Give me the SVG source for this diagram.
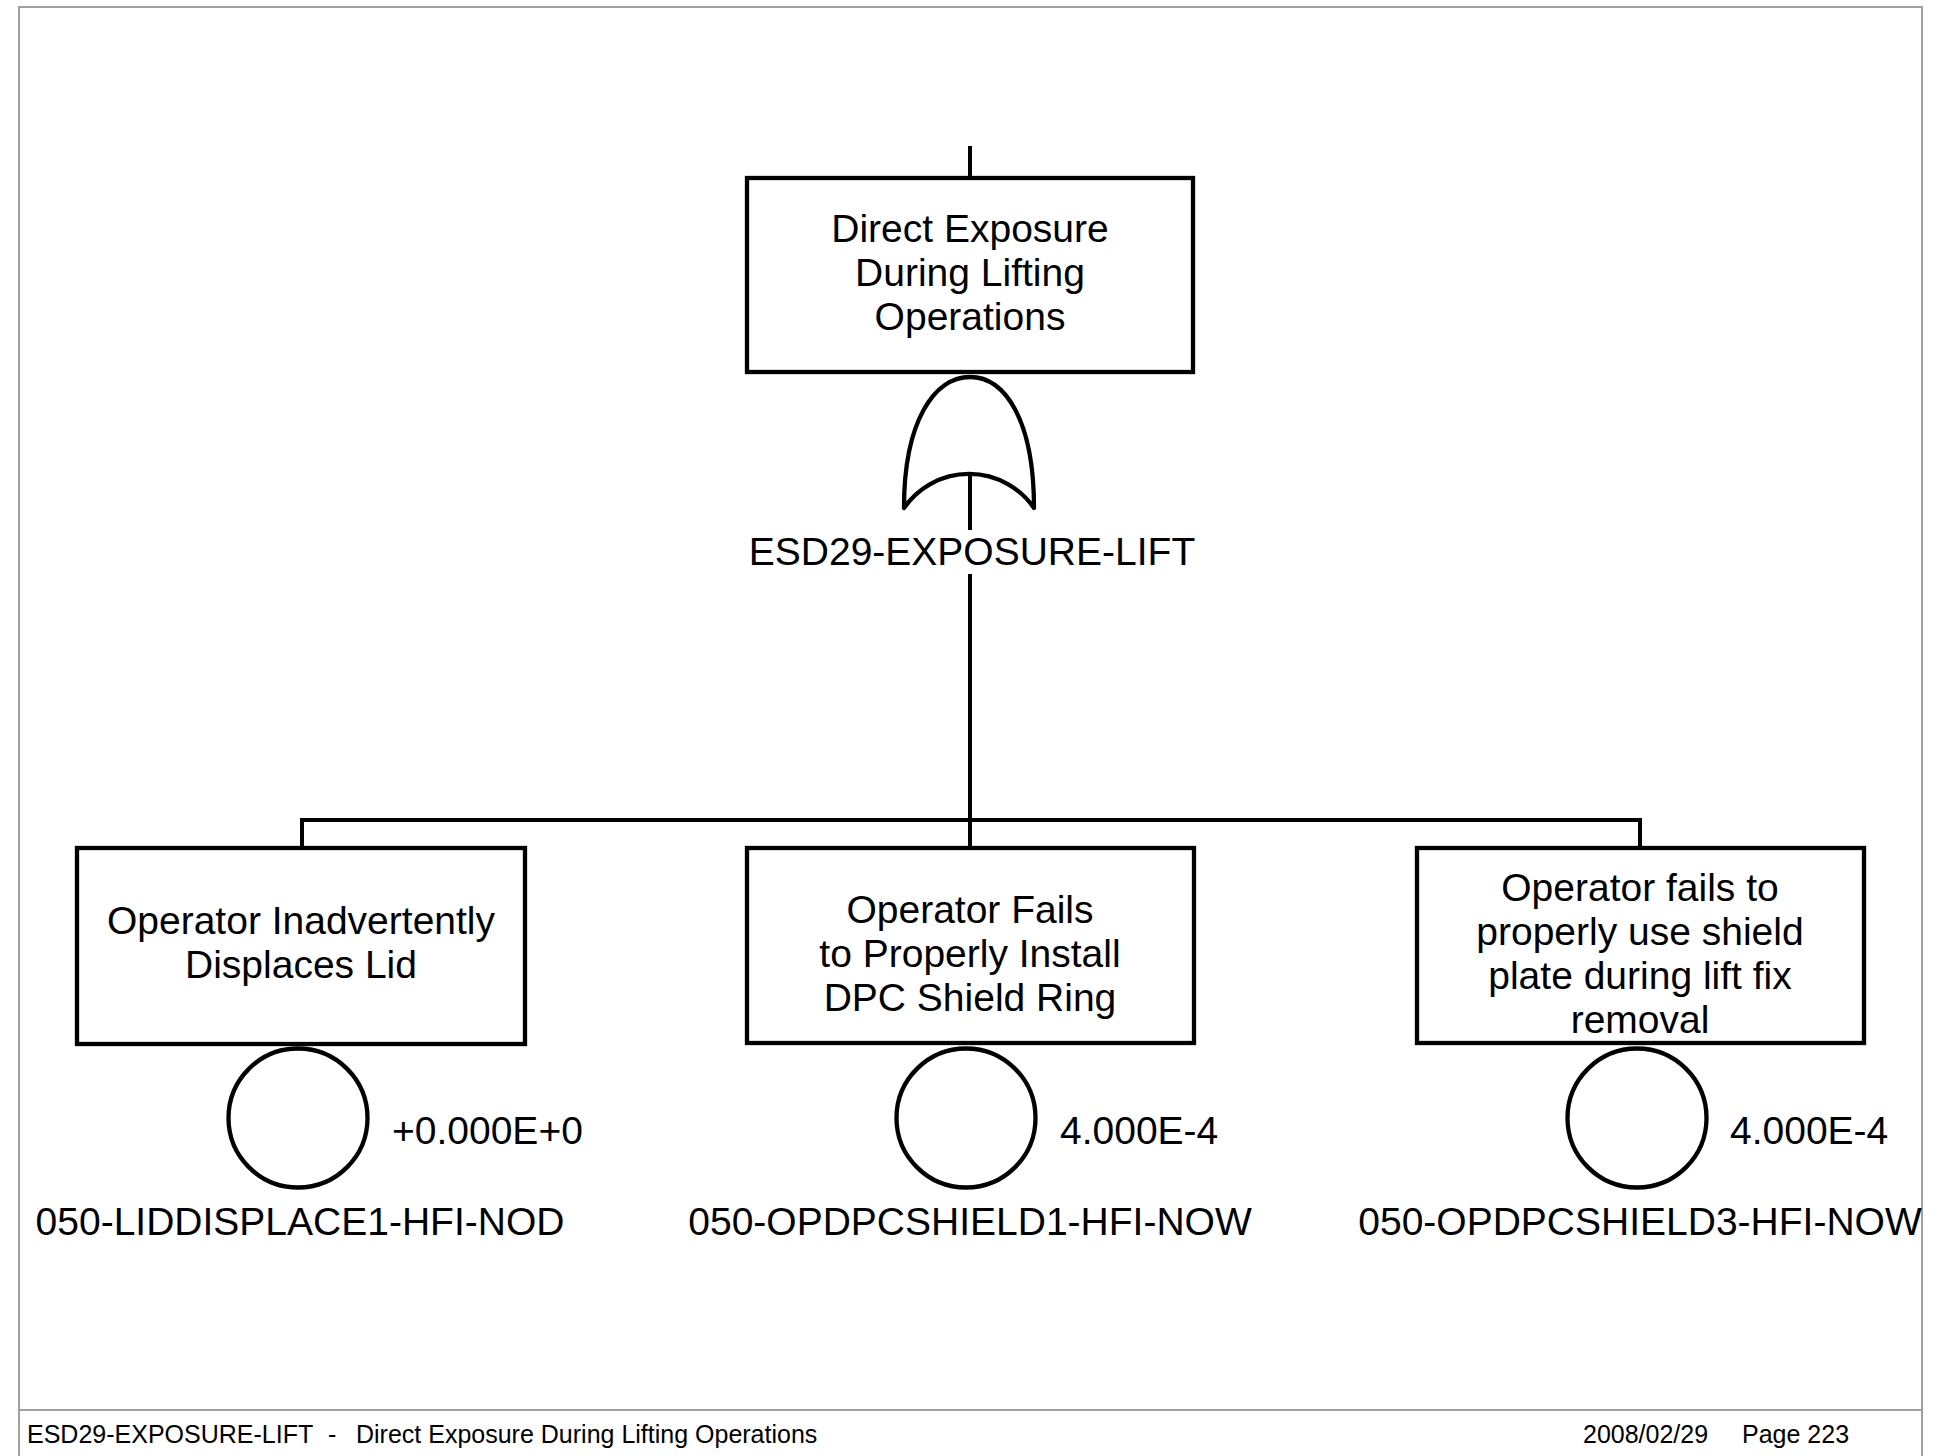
<svg xmlns="http://www.w3.org/2000/svg" width="1941" height="1456" viewBox="0 0 1941 1456">
<style>
.ln{fill:none;stroke:#000;stroke-width:4;stroke-linecap:square}
.bx{fill:#fff;stroke:#000;stroke-width:4.3}
.ev{fill:#fff;stroke:#000;stroke-width:4.3}
.gt{fill:#fff;stroke:#000;stroke-width:4.3;stroke-linejoin:round}
.pg{fill:none;stroke:#a0a0a0;stroke-width:2}
text{font-family:"Liberation Sans",Arial,sans-serif;fill:#000}
.bt{font-size:39px;text-anchor:middle}
.lb{font-size:39px;text-anchor:middle}
.pr{font-size:39px}
.ft{font-size:25px}
</style>
<rect width="1941" height="1456" fill="#fff"/>
<g id="page">
<path class="pg" d="M19 1456V7H1922V1456M19 1410H1922"/>
</g>
<g id="connectors">
<path class="ln" d="M970 148V178"/>
<path class="ln" d="M970 474V528"/>
<path class="ln" d="M970 576V848"/>
<path class="ln" d="M302 848V820H1640V848"/>
</g>
<g id="top-event">
<rect class="bx" x="747" y="178" width="446" height="194"/>
<text class="bt" x="970" y="242">Direct Exposure</text>
<text class="bt" x="970" y="286">During Lifting</text>
<text class="bt" x="970" y="330">Operations</text>
</g>
<g id="or-gate">
<path class="gt" d="M904 508C904 420 935 377 970 377C1005 377 1034 420 1034 508A79 79 0 0 0 904 508Z"/>
<path class="ln" d="M970 474V508"/>
<text class="lb" x="972" y="565">ESD29-EXPOSURE-LIFT</text>
</g>
<g id="event-1">
<rect class="bx" x="77" y="848" width="448" height="196"/>
<text class="bt" x="301" y="934">Operator Inadvertently</text>
<text class="bt" x="301" y="978">Displaces Lid</text>
<circle class="ev" cx="298" cy="1118" r="69.5"/>
<text class="pr" x="392" y="1144">+0.000E+0</text>
<text class="lb" x="300" y="1235">050-LIDDISPLACE1-HFI-NOD</text>
</g>
<g id="event-2">
<rect class="bx" x="747" y="848" width="447" height="195"/>
<text class="bt" x="970" y="923">Operator Fails</text>
<text class="bt" x="970" y="967">to Properly Install</text>
<text class="bt" x="970" y="1011">DPC Shield Ring</text>
<circle class="ev" cx="966" cy="1118" r="69.5"/>
<text class="pr" x="1060" y="1144">4.000E-4</text>
<text class="lb" x="970" y="1235">050-OPDPCSHIELD1-HFI-NOW</text>
</g>
<g id="event-3">
<rect class="bx" x="1417" y="848" width="447" height="195"/>
<text class="bt" x="1640" y="901">Operator fails to</text>
<text class="bt" x="1640" y="945">properly use shield</text>
<text class="bt" x="1640" y="989">plate during lift fix</text>
<text class="bt" x="1640" y="1033">removal</text>
<circle class="ev" cx="1637" cy="1118" r="69.5"/>
<text class="pr" x="1730" y="1144">4.000E-4</text>
<text class="lb" x="1640" y="1235">050-OPDPCSHIELD3-HFI-NOW</text>
</g>
<g id="footer">
<text class="ft" x="27" y="1443">ESD29-EXPOSURE-LIFT</text>
<text class="ft" x="328" y="1443">-</text>
<text class="ft" x="356" y="1443">Direct Exposure During Lifting Operations</text>
<text class="ft" x="1583" y="1443">2008/02/29</text>
<text class="ft" x="1742" y="1443">Page 223</text>
</g>
</svg>
